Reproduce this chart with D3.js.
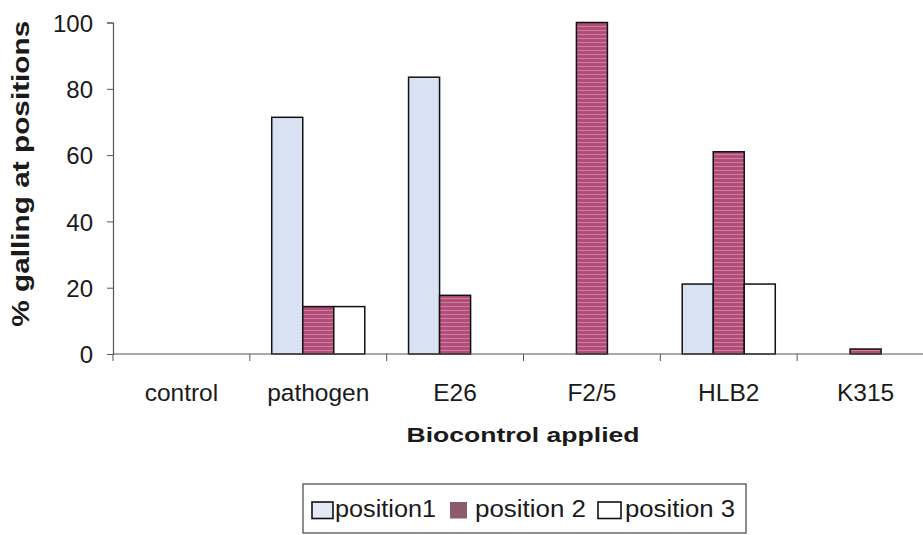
<!DOCTYPE html>
<html>
<head>
<meta charset="utf-8">
<script src="https://cdn.jsdelivr.net/npm/d3@7"></script>
<style>
  html, body { margin: 0; padding: 0; background: #fff; }
  svg { display: block; }
  text { font-family: "Liberation Sans", Arial, sans-serif; fill: #1a1a1a; }
</style>
</head>
<body>
<svg id="chart" width="923" height="535"></svg>
<script>
// Galling at each root position per biocontrol treatment (%)
const categories = ["control", "pathogen", "E26", "F2/5", "HLB2", "K315"];
const seriesNames = ["position1", "position 2", "position 3"];
const position1 = [0, 71.4, 83.5, 0, 21.1, 0];
const position2 = [0, 14.3, 17.7, 100, 61.0, 1.5];
const position3 = [0, 14.3, 0, 0, 21.1, 0];
const yTicks = [0, 20, 40, 60, 80, 100];

const seriesValues = [position1, position2, position3];

const svg = d3.select("#chart");

// Fills: light blue, striped maroon, white
const defs = svg.append("defs");
const stripe = defs.append("pattern")
  .attr("id", "stripe2").attr("patternUnits", "userSpaceOnUse")
  .attr("width", 6).attr("height", 4);
stripe.append("rect").attr("width", 6).attr("height", 4).attr("fill", "#b24d7a");
stripe.append("rect").attr("y", 2).attr("width", 6).attr("height", 1).attr("fill", "#cf7fa0");

const dots = defs.append("pattern")
  .attr("id", "dots1").attr("patternUnits", "userSpaceOnUse")
  .attr("width", 4).attr("height", 4);
dots.append("rect").attr("width", 4).attr("height", 4).attr("fill", "#dae3f4");
dots.append("rect").attr("x", 1).attr("y", 1).attr("width", 1).attr("height", 1).attr("fill", "#cbd6ee");

const fills = ["url(#dots1)", "url(#stripe2)", "#ffffff"];
const legendFills = ["#e4e9f3", "#8c5a6d", "#ffffff"];

const x0 = d3.scaleBand().domain(categories).range([113, 934]).paddingInner(0).paddingOuter(0);
const x1 = d3.scaleBand().domain(seriesNames).range([0, x0.bandwidth()])
  .paddingInner(0).paddingOuter(0.706);
const y = d3.scaleLinear().domain([0, 100]).range([354, 22.5]);

// Bars
const rows = [];
categories.forEach((c, i) => {
  seriesNames.forEach((s, j) => {
    rows.push({ cat: c, s: s, j: j, v: seriesValues[j][i] });
  });
});

svg.append("g").selectAll("rect")
  .data(rows.filter(d => d.v > 0))
  .join("rect")
  .attr("x", d => x0(d.cat) + x1(d.s))
  .attr("y", d => y(d.v))
  .attr("width", x1.bandwidth())
  .attr("height", d => y(0) - y(d.v))
  .attr("fill", d => fills[d.j])
  .attr("stroke", "#111")
  .attr("stroke-width", 1.5);

// Y axis
const yAxis = svg.append("g").attr("transform", "translate(113,0)")
  .call(d3.axisLeft(y).tickValues(yTicks).tickSize(6).tickPadding(14));
yAxis.select(".domain").attr("stroke", "#555").attr("stroke-width", 1.2);
yAxis.selectAll(".tick line").attr("stroke", "#555");
yAxis.selectAll(".tick text")
  .style("font-family", "'Liberation Sans', Arial, sans-serif")
  .style("font-size", "24px").attr("fill", "#1a1a1a").attr("dy", "0.36em");

// X axis: ticks on category boundaries, labels centred in each band
const xAxisG = svg.append("g").attr("transform", `translate(0,${y(0)})`);
xAxisG.append("line").attr("x1", 113).attr("x2", 923)
  .attr("stroke", "#555").attr("stroke-width", 1.2);
const boundaries = categories.map(c => x0(c)).concat([x0(categories[categories.length - 1]) + x0.bandwidth()]);
xAxisG.selectAll(".bt").data(boundaries.filter(b => b <= 923)).join("line")
  .attr("class", "bt")
  .attr("x1", d => d).attr("x2", d => d).attr("y1", 0).attr("y2", 7)
  .attr("stroke", "#555").attr("stroke-width", 1);
xAxisG.selectAll(".lbl").data(categories).join("text")
  .attr("class", "lbl")
  .attr("x", d => x0(d) + x0.bandwidth() / 2)
  .attr("y", 47)
  .attr("text-anchor", "middle")
  .style("font-size", "24.5px")
  .text(d => d);

// Axis titles
svg.append("text")
  .attr("transform", "translate(28.5,173.7) rotate(-90)")
  .attr("text-anchor", "middle")
  .attr("textLength", 306).attr("lengthAdjust", "spacingAndGlyphs")
  .style("font-size", "23px").style("font-weight", "bold")
  .text("% galling at positions");

svg.append("text")
  .attr("x", 523).attr("y", 441.5)
  .attr("text-anchor", "middle")
  .attr("textLength", 233).attr("lengthAdjust", "spacingAndGlyphs")
  .style("font-size", "21px").style("font-weight", "bold")
  .text("Biocontrol applied");

// Legend
const legend = svg.append("g");
legend.append("rect")
  .attr("x", 303).attr("y", 484).attr("width", 443).attr("height", 49)
  .attr("fill", "#fff").attr("stroke", "#444").attr("stroke-width", 1.2);

const legendItems = [
  { sq: 312, sw: 21, tx: 335, tl: 101 },
  { sq: 450, sw: 17, tx: 475, tl: 111 },
  { sq: 598, sw: 23, tx: 625, tl: 110 }
];
seriesNames.forEach((s, j) => {
  const it = legendItems[j];
  legend.append("rect")
    .attr("x", it.sq).attr("y", 502).attr("width", it.sw).attr("height", 16.5)
    .attr("fill", legendFills[j])
    .attr("stroke", j === 1 ? "none" : "#111").attr("stroke-width", 1.6);
  legend.append("text")
    .attr("x", it.tx).attr("y", 516.5)
    .attr("textLength", it.tl).attr("lengthAdjust", "spacingAndGlyphs")
    .style("font-size", "23px")
    .text(s);
});
</script>
</body>
</html>
